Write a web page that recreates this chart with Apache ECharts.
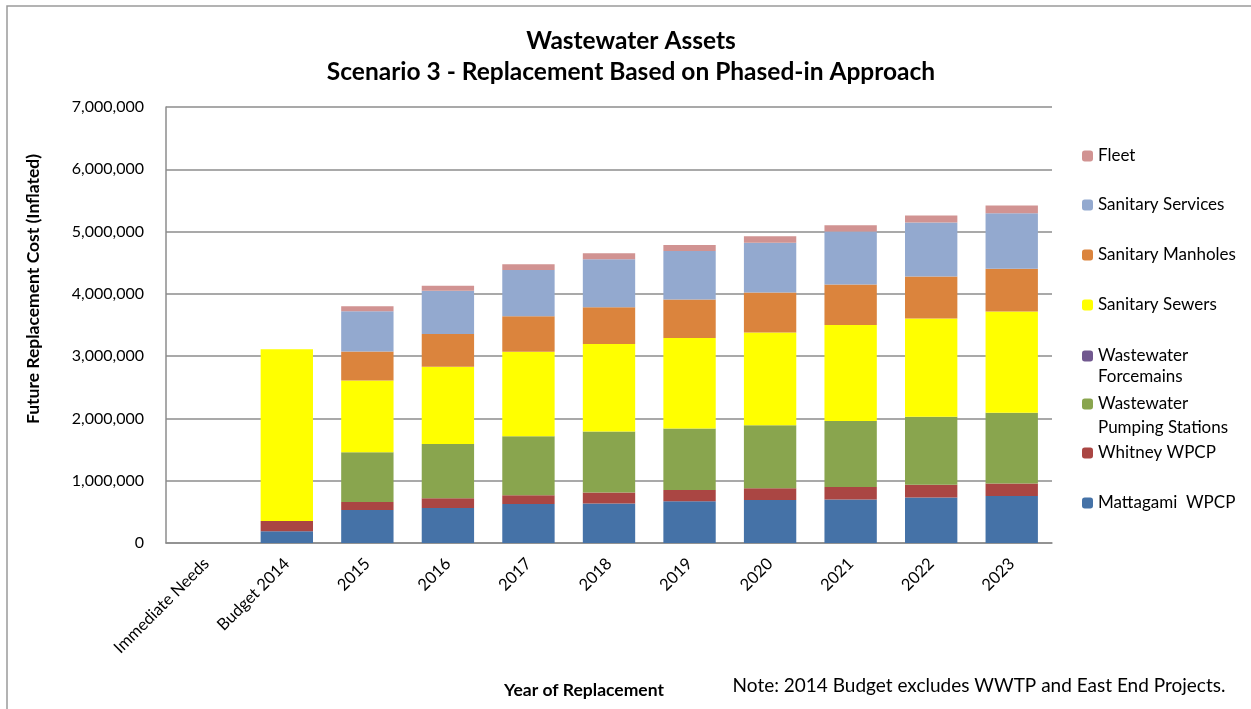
<!DOCTYPE html>
<html>
<head>
<meta charset="utf-8">
<script src="https://cdn.jsdelivr.net/npm/echarts@6/dist/echarts.min.js"></script>
<style>
  html, body { margin: 0; padding: 0; background: #fff; }
  #main { width: 1251px; height: 709px; }
</style>
</head>
<body>
<div id="main"></div>
<script>
var categories = ['Immediate Needs', 'Budget 2014', '2015', '2016', '2017', '2018', '2019', '2020', '2021', '2022', '2023'];

var mattagami  = [0, 190000, 530000, 560000, 625000, 635000, 670000, 690000, 700000, 730000, 755000];
var whitney    = [0, 165000, 130000, 160000, 140000, 175000, 180000, 190000, 200000, 205000, 200000];
var pumping    = [0, 0, 795000, 870000, 950000, 980000, 990000, 1010000, 1060000, 1090000, 1135000];
var forcemains = [0, 0, 0, 0, 0, 0, 0, 0, 0, 0, 0];
var sewers     = [0, 2755000, 1155000, 1240000, 1355000, 1405000, 1450000, 1490000, 1540000, 1580000, 1625000];
var manholes   = [0, 0, 465000, 525000, 570000, 590000, 620000, 640000, 650000, 675000, 690000];
var services   = [0, 0, 645000, 695000, 745000, 770000, 780000, 800000, 850000, 865000, 890000];
var fleet      = [0, 0, 80000, 80000, 90000, 95000, 95000, 105000, 100000, 115000, 125000];

var yTicks = [0, 1000000, 2000000, 3000000, 4000000, 5000000, 6000000, 7000000];

var FONT = 'Lato';

var seriesDefs = [
  { name: 'Mattagami  WPCP', data: mattagami, color: '#4572A7' },
  { name: 'Whitney WPCP', data: whitney, color: '#AA4643' },
  { name: 'Wastewater Pumping Stations', data: pumping, color: '#89A54E' },
  { name: 'Wastewater Forcemains', data: forcemains, color: '#71588F' },
  { name: 'Sanitary Sewers', data: sewers, color: '#FFFF00' },
  { name: 'Sanitary Manholes', data: manholes, color: '#DB843D' },
  { name: 'Sanitary Services', data: services, color: '#93A9CF' },
  { name: 'Fleet', data: fleet, color: '#D19392' }
];

// legend rows: icon centre y in px
var legendRows = [
  { name: 'Fleet', y: 156 },
  { name: 'Sanitary Services', y: 205 },
  { name: 'Sanitary Manholes', y: 255 },
  { name: 'Sanitary Sewers', y: 305 },
  { name: 'Wastewater Forcemains', y: 356, lines: ['Wastewater', 'Forcemains'], lh: 21 },
  { name: 'Wastewater Pumping Stations', y: 404, lines: ['Wastewater', 'Pumping Stations'], lh: 24 },
  { name: 'Whitney WPCP', y: 453 },
  { name: 'Mattagami  WPCP', y: 503 }
];

var myChart = echarts.init(document.getElementById('main'));

var legends = legendRows.map(function (r) {
  var lg = {
    data: [r.name],
    left: 1082,
    orient: 'vertical',
    itemWidth: 11,
    itemHeight: 11,
    padding: 0,
    selectedMode: false,
    textStyle: { fontFamily: FONT, fontSize: 17, color: '#000', lineHeight: 20 }
  };
  if (r.lines) {
    // blank first line keeps the icon level with the first text line
    lg.formatter = function () { return ' \n' + r.lines.join('\n'); };
    lg.textStyle.lineHeight = r.lh;
    lg.top = r.y - r.lh * 1.5;
  } else {
    lg.top = r.y - 10;
  }
  return lg;
});

option = {
  backgroundColor: '#fff',
  animation: false,
  title: {
    text: 'Wastewater Assets\nScenario 3 - Replacement Based on Phased-in Approach',
    left: 626,
    top: 21,
    textAlign: 'center',
    textStyle: { fontFamily: FONT, fontSize: 24.5, fontWeight: 'bold', color: '#000', lineHeight: 31 }
  },
  legend: legends,
  grid: { left: 166, right: 199, top: 107, bottom: 166 },
  xAxis: {
    type: 'category',
    data: categories,
    axisTick: { show: false },
    axisLine: { lineStyle: { color: '#8c8c8c', width: 1.5 } },
    axisLabel: {
      rotate: 45,
      interval: 0,
      margin: 18,
      fontFamily: FONT,
      fontSize: 16.5,
      color: '#000'
    }
  },
  yAxis: {
    type: 'value',
    min: yTicks[0],
    max: yTicks[yTicks.length - 1],
    interval: 1000000,
    axisLine: { show: true, lineStyle: { color: '#8c8c8c', width: 1.5 } },
    axisTick: { show: false },
    splitLine: { lineStyle: { color: '#8c8c8c', width: 1.5 } },
    axisLabel: {
      margin: 22,
      fontFamily: FONT,
      fontSize: 16,
      color: '#000',
      formatter: function (v) { return v.toLocaleString('en-US'); }
    }
  },
  series: seriesDefs.map(function (s) {
    return {
      name: s.name,
      type: 'bar',
      stack: 'total',
      data: s.data,
      barCategoryGap: '35%',
      itemStyle: { color: s.color }
    };
  }),
  graphic: [
    {
      type: 'rect',
      shape: { x: 7, y: 6, width: 1300, height: 800 },
      style: { fill: 'none', stroke: '#9a9a9a', lineWidth: 1.5 },
      silent: true
    },
    {
      type: 'text',
      x: 33,
      y: 289,
      rotation: Math.PI / 2,
      style: {
        text: 'Future Replacement Cost (Inflated)',
        fontFamily: FONT, fontSize: 17.5, fontWeight: 'bold', fill: '#000',
        textAlign: 'center', textVerticalAlign: 'middle'
      }
    },
    {
      type: 'text',
      x: 584,
      y: 690,
      style: {
        text: 'Year of Replacement',
        fontFamily: FONT, fontSize: 17.5, fontWeight: 'bold', fill: '#000',
        textAlign: 'center', textVerticalAlign: 'middle'
      }
    },
    {
      type: 'text',
      x: 979,
      y: 686,
      style: {
        text: 'Note: 2014 Budget excludes WWTP and East End Projects.',
        fontFamily: FONT, fontSize: 19, fill: '#000',
        textAlign: 'center', textVerticalAlign: 'middle'
      }
    }
  ]
};
myChart.setOption(option);
</script>
</body>
</html>
